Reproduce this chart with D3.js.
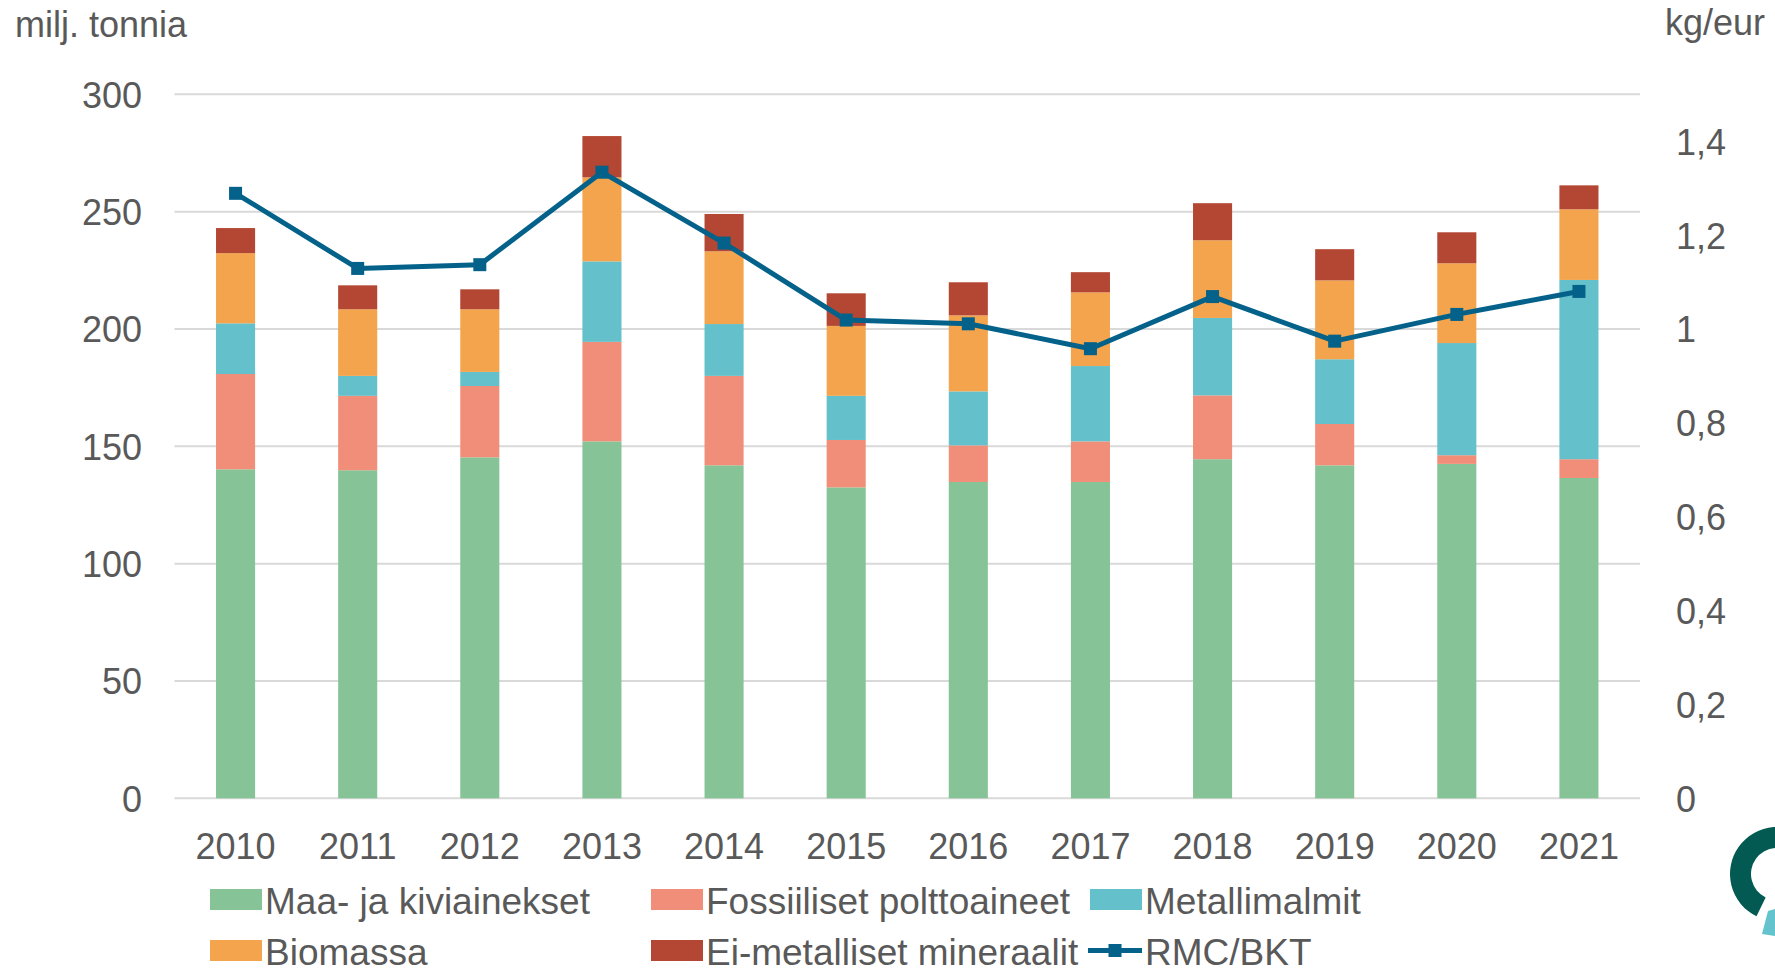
<!DOCTYPE html>
<html>
<head>
<meta charset="utf-8">
<script src="https://cdn.jsdelivr.net/npm/d3@7"></script>
<style>
  html, body { margin: 0; padding: 0; background: #fff; }
  svg { display: block; }
  text { font-family: "Liberation Sans", Arial, sans-serif; fill: #595959; }
</style>
</head>
<body>
<div id="chart"></div>
<script>
// ----------------------------
// Data
// ----------------------------
const years = ['2010', '2011', '2012', '2013', '2014', '2015', '2016', '2017', '2018', '2019', '2020', '2021'];

const seriesNames = ['Maa- ja kiviainekset', 'Fossiiliset polttoaineet', 'Metallimalmit', 'Biomassa', 'Ei-metalliset mineraalit'];
const seriesColors = ['#86c497', '#f18e79', '#64c0ca', '#f3a44c', '#b34733'];

const maaKivi    = [140.2, 139.8, 145.3, 152.1, 141.9, 132.5, 134.8, 134.8, 144.5, 141.9, 142.5, 136.5];
const fossiili   = [40.6, 31.7, 30.4, 42.4, 38.1, 20.2, 15.6, 17.3, 27.2, 17.6, 3.7, 8.0];
const metalli    = [21.6, 8.5, 6.0, 34.3, 22.1, 18.8, 23.0, 32.1, 33.0, 27.6, 47.8, 76.4];
const biomassa   = [29.9, 28.4, 26.7, 35.8, 31.0, 29.8, 32.4, 31.4, 33.1, 33.6, 34.0, 30.1];
const eiMetalli  = [10.7, 10.2, 8.5, 17.6, 15.9, 13.9, 14.1, 8.6, 15.8, 13.3, 13.2, 10.2];

const rmcBkt = [1.289, 1.129, 1.137, 1.334, 1.183, 1.019, 1.011, 0.958, 1.069, 0.974, 1.031, 1.080];
const lineName = 'RMC/BKT';
const lineColor = '#04628a';

const leftTicks = [0, 50, 100, 150, 200, 250, 300];
const rightTicks = [0, 0.2, 0.4, 0.6, 0.8, 1, 1.2, 1.4];

// ----------------------------
// Layout
// ----------------------------
const width = 1775;
const height = 973;
const plot = { left: 174.5, right: 1640, top: 94.3, bottom: 798.3 };

const svg = d3.select('#chart')
  .append('svg')
  .attr('width', width)
  .attr('height', height);

const x = d3.scaleBand()
  .domain(years)
  .range([plot.left, plot.right])
  .paddingInner(0.68)
  .paddingOuter(0.34);

const y = d3.scaleLinear().domain([0, 300]).range([plot.bottom, plot.top]);
const y2 = d3.scaleLinear().domain([0, 1.5]).range([plot.bottom, plot.top]);

// ----------------------------
// Grid + axes
// ----------------------------
svg.append('g')
  .selectAll('line')
  .data(leftTicks)
  .join('line')
  .attr('x1', plot.left)
  .attr('x2', plot.right)
  .attr('y1', d => y(d))
  .attr('y2', d => y(d))
  .attr('stroke', '#d9d9d9')
  .attr('stroke-width', 2);

const leftAxis = svg.append('g')
  .attr('transform', `translate(${142},0)`)
  .call(d3.axisLeft(y).tickValues(leftTicks).tickSize(0).tickPadding(0));
leftAxis.select('.domain').remove();
leftAxis.selectAll('text')
  .attr('font-size', 36)
  .attr('font-family', null)
  .attr('dy', '0.36em');

const rightAxis = svg.append('g')
  .attr('transform', `translate(${1676},0)`)
  .call(d3.axisRight(y2).tickValues(rightTicks).tickSize(0).tickPadding(0)
    .tickFormat(d => String(d).replace('.', ',')));
rightAxis.select('.domain').remove();
rightAxis.selectAll('text')
  .attr('font-size', 36)
  .attr('font-family', null)
  .attr('dy', '0.36em');

const bottomAxis = svg.append('g')
  .attr('transform', `translate(0,${859})`)
  .call(d3.axisBottom(x).tickSize(0).tickPadding(0));
bottomAxis.select('.domain').remove();
bottomAxis.selectAll('text')
  .attr('font-size', 36)
  .attr('font-family', null)
  .attr('dy', 0)
  .attr('y', 0);

svg.append('text')
  .attr('x', 15)
  .attr('y', 37)
  .attr('font-size', 36)
  .text('milj. tonnia');

svg.append('text')
  .attr('x', 1665)
  .attr('y', 35)
  .attr('font-size', 36)
  .text('kg/eur');

// ----------------------------
// Stacked bars
// ----------------------------
const rows = years.map((yr, i) => ({
  year: yr,
  s0: maaKivi[i], s1: fossiili[i], s2: metalli[i], s3: biomassa[i], s4: eiMetalli[i]
}));
const stack = d3.stack().keys(['s0', 's1', 's2', 's3', 's4'])(rows);

svg.append('g')
  .selectAll('g')
  .data(stack)
  .join('g')
  .attr('fill', (d, i) => seriesColors[i])
  .selectAll('rect')
  .data(d => d)
  .join('rect')
  .attr('x', d => x(d.data.year))
  .attr('width', x.bandwidth())
  .attr('y', d => y(d[1]))
  .attr('height', d => y(d[0]) - y(d[1]));

// ----------------------------
// Line + markers
// ----------------------------
const line = d3.line()
  .x((d, i) => x(years[i]) + x.bandwidth() / 2)
  .y(d => y2(d));

svg.append('path')
  .datum(rmcBkt)
  .attr('fill', 'none')
  .attr('stroke', lineColor)
  .attr('stroke-width', 5)
  .attr('stroke-linejoin', 'round')
  .attr('d', line);

const mk = 13;
svg.append('g')
  .selectAll('rect')
  .data(rmcBkt)
  .join('rect')
  .attr('x', (d, i) => x(years[i]) + x.bandwidth() / 2 - mk / 2)
  .attr('y', d => y2(d) - mk / 2)
  .attr('width', mk)
  .attr('height', mk)
  .attr('fill', lineColor);

// ----------------------------
// Legend
// ----------------------------
const legendCols = [210, 651, 1090];
const legendRows = [899.5, 950.5];
const legendItems = seriesNames.map((name, i) => ({ name, color: seriesColors[i], type: 'box' }));
legendItems.push({ name: lineName, color: lineColor, type: 'line' });

const legend = svg.append('g')
  .selectAll('g')
  .data(legendItems)
  .join('g')
  .attr('transform', (d, i) => `translate(${legendCols[i % 3]},${legendRows[Math.floor(i / 3)]})`);

legend.filter(d => d.type === 'box')
  .append('rect')
  .attr('x', 0)
  .attr('y', -10.5)
  .attr('width', 52)
  .attr('height', 21)
  .attr('fill', d => d.color);

legend.filter(d => d.type === 'line')
  .append('line')
  .attr('x1', -2)
  .attr('x2', 52)
  .attr('stroke', d => d.color)
  .attr('stroke-width', 5);

legend.filter(d => d.type === 'line')
  .append('rect')
  .attr('x', 25 - mk / 2)
  .attr('y', -mk / 2)
  .attr('width', mk)
  .attr('height', mk)
  .attr('fill', d => d.color);

legend.append('text')
  .attr('x', 55)
  .attr('y', 14)
  .attr('font-size', 37)
  .text(d => d.name);

// ----------------------------
// Logo (cut at the corner)
// ----------------------------
svg.append('path')
  .attr('transform', 'translate(1777,874)')
  .attr('fill', '#035a52')
  .attr('d', d3.arc()({ innerRadius: 26, outerRadius: 47, startAngle: -2.69, endAngle: 0.8 }));

svg.append('path')
  .attr('fill', '#64c3cc')
  .attr('d', 'M1768,911 L1775,909 L1775,936 L1762,934 Z');
</script>
</body>
</html>
